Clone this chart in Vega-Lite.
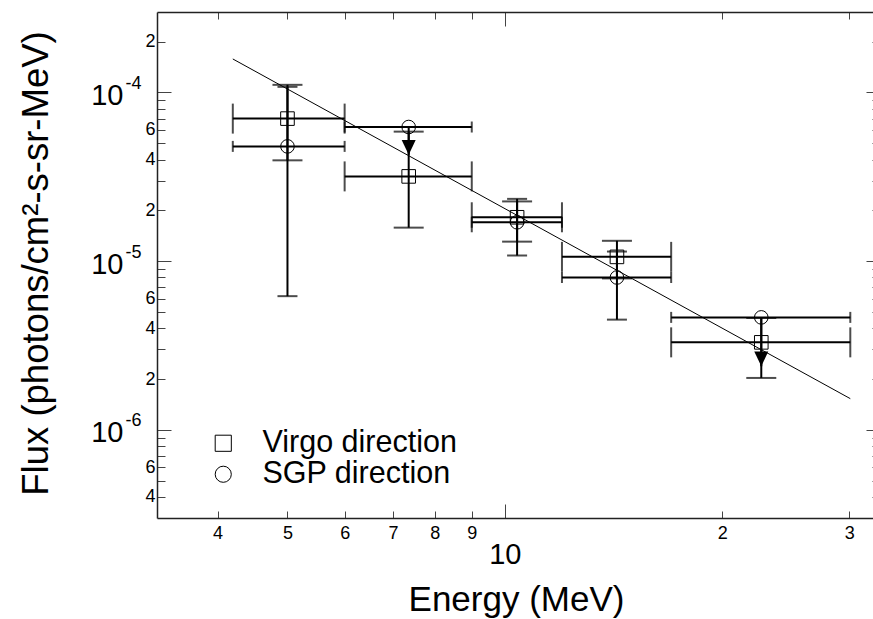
{
  "$schema": "https://vega.github.io/schema/vega-lite/v6.json",
  "width": 716,
  "height": 506,
  "autosize": {"type": "none"},
  "padding": {"left": 157, "top": 12, "right": 0, "bottom": 101},
  "background": "white",
  "config": {
    "view": {"stroke": null},
    "font": "Liberation Sans",
    "axis": {
      "grid": false,
      "labelFont": "Liberation Sans",
      "titleFont": "Liberation Sans",
      "labelColor": "black",
      "titleColor": "black",
      "titleFontWeight": "normal",
      "domainColor": "#222",
      "domainWidth": 1.5,
      "tickColor": "#444",
      "tickWidth": 1,
      "labelFlush": false,
      "labelOverlap": false,
      "labelBound": false
    },
    "legend": {
      "orient": "none",
      "legendX": 51,
      "legendY": 416,
      "title": null,
      "padding": 0,
      "labelFont": "Liberation Sans",
      "labelFontSize": 30.5,
      "labelColor": "black",
      "labelLimit": 0,
      "labelOffset": 24,
      "rowPadding": 0,
      "symbolSize": 260,
      "symbolStrokeWidth": 1,
      "symbolStrokeColor": "black",
      "symbolFillColor": "transparent"
    }
  },
  "datasets": {
    "obs": [
      {"series": "Virgo direction", "E": 5.0, "Elo": 4.2, "Ehi": 6.0, "F": 7.0e-5, "Flo": 3.96e-5, "Fhi": 1.11e-4, "Flim": null},
      {"series": "Virgo direction", "E": 7.36, "Elo": 6.0, "Ehi": 9.0, "F": 3.18e-5, "Flo": 1.58e-5, "Fhi": 5.86e-5, "Flim": null},
      {"series": "Virgo direction", "E": 10.4, "Elo": 9.0, "Ehi": 12.0, "F": 1.82e-5, "Flo": 1.305e-5, "Fhi": 2.26e-5, "Flim": null},
      {"series": "Virgo direction", "E": 14.3, "Elo": 12.0, "Ehi": 17.0, "F": 1.06e-5, "Flo": 7.9e-6, "Fhi": 1.32e-5, "Flim": null},
      {"series": "Virgo direction", "E": 22.66, "Elo": 17.0, "Ehi": 30.1, "F": 3.3e-6, "Flo": 2.03e-6, "Fhi": 4.6e-6, "Flim": null},
      {"series": "SGP direction", "E": 5.0, "Elo": 4.2, "Ehi": 6.0, "F": 4.79e-5, "Flo": 6.2e-6, "Fhi": 1.08e-4, "Flim": null},
      {"series": "SGP direction", "E": 7.36, "Elo": 6.0, "Ehi": 9.0, "F": 6.24e-5, "Flo": null, "Fhi": null, "Flim": 4.27e-5},
      {"series": "SGP direction", "E": 10.4, "Elo": 9.0, "Ehi": 12.0, "F": 1.70e-5, "Flo": 1.08e-5, "Fhi": 2.34e-5, "Flim": null},
      {"series": "SGP direction", "E": 14.3, "Elo": 12.0, "Ehi": 17.0, "F": 8.0e-6, "Flo": 4.5e-6, "Fhi": 1.14e-5, "Flim": null},
      {"series": "SGP direction", "E": 22.66, "Elo": 17.0, "Ehi": 30.1, "F": 4.64e-6, "Flo": null, "Fhi": null, "Flim": 2.38e-6}
    ],
    "fit": [
      {"E": 4.2, "F": 1.58e-4},
      {"E": 30.1, "F": 1.53e-6}
    ]
  },
  "resolve": {"axis": {"x": "independent", "y": "independent"}},
  "layer": [
    {
      "data": {"name": "fit"},
      "mark": {"type": "line", "color": "black", "strokeWidth": 1},
      "encoding": {
        "x": {"field": "E", "type": "quantitative", "scale": {"type": "log", "domain": [3.298, 32.36], "nice": false},
          "axis": {"orient": "bottom", "values": [4, 5, 6, 7, 8, 9, 10, 20, 30], "labels": false, "title": null, "domain": true,
            "tickSize": {"condition": {"test": "datum.value == 10", "value": -14}, "value": -7}}},
        "y": {"field": "F", "type": "quantitative", "scale": {"type": "log", "domain": [3e-7, 3e-4], "nice": false},
          "axis": {"orient": "left", "values": [4e-7, 5e-7, 6e-7, 7e-7, 8e-7, 9e-7, 1e-6, 2e-6, 3e-6, 4e-6, 5e-6, 6e-6, 7e-6, 8e-6, 9e-6, 1e-5, 2e-5, 3e-5, 4e-5, 5e-5, 6e-5, 7e-5, 8e-5, 9e-5, 1e-4, 2e-4],
            "labels": false, "title": null, "domain": true,
            "tickSize": {"condition": {"test": "datum.value == 0.0001 || datum.value == 0.00001 || datum.value == 0.000001", "value": -14}, "value": -8}}}
      }
    },
    {
      "data": {"name": "obs"},
      "mark": {"type": "rule", "color": "black", "strokeWidth": 2},
      "encoding": {
        "x": {"field": "Elo", "type": "quantitative", "scale": {"type": "log", "domain": [3.298, 32.36], "nice": false},
          "axis": {"orient": "top", "values": [4, 5, 6, 7, 8, 9, 10, 20, 30], "labels": false, "title": null, "domain": true,
            "tickSize": {"condition": {"test": "datum.value == 10", "value": -14}, "value": -7}}},
        "x2": {"field": "Ehi"},
        "y": {"field": "F", "type": "quantitative", "scale": {"type": "log", "domain": [3e-7, 3e-4], "nice": false},
          "axis": {"orient": "right", "offset": 7, "values": [4e-7, 5e-7, 6e-7, 7e-7, 8e-7, 9e-7, 1e-6, 2e-6, 3e-6, 4e-6, 5e-6, 6e-6, 7e-6, 8e-6, 9e-6, 1e-5, 2e-5, 3e-5, 4e-5, 5e-5, 6e-5, 7e-5, 8e-5, 9e-5, 1e-4, 2e-4],
            "labels": false, "title": null, "domain": true,
            "tickSize": {"condition": {"test": "datum.value == 0.0001 || datum.value == 0.00001 || datum.value == 0.000001", "value": -14}, "value": -8}}}
      }
    },
    {
      "data": {"name": "obs"},
      "transform": [{"filter": "isValid(datum.Flo)"}],
      "mark": {"type": "rule", "color": "black", "strokeWidth": 2},
      "encoding": {
        "x": {"field": "E", "type": "quantitative", "scale": {"type": "log", "domain": [3.298, 32.36], "nice": false},
          "axis": {"orient": "bottom", "values": [4, 5, 6, 7, 8, 9, 10, 20, 30], "ticks": false, "tickSize": 0, "domain": false,
            "labelExpr": "datum.value == 10 ? '10' : (datum.value >= 20 ? toString(round(datum.value / 10)) : toString(datum.value))",
            "labelFontSize": {"condition": {"test": "datum.value == 10", "value": 29}, "value": 18},
            "labelPadding": {"condition": {"test": "datum.value == 10", "value": 22}, "value": 6},
            "title": "Energy (MeV)", "titleFontSize": 35, "titleX": 359, "titleY": 92, "titleBaseline": "alphabetic", "titleAlign": "center"}},
        "y": {"field": "Flo", "type": "quantitative", "scale": {"type": "log", "domain": [3e-7, 3e-4], "nice": false},
          "axis": {"orient": "left", "values": [2e-4, 6e-5, 4e-5, 2e-5, 6e-6, 4e-6, 2e-6, 6e-7, 4e-7], "ticks": false, "tickSize": 0, "domain": false,
            "labelExpr": "toString(round(datum.value / pow(10, floor(log(datum.value) / LN10 + 1e-9))))",
            "labelFontSize": 18, "labelPadding": 2, "labelAlign": "right", "labelBaseline": "middle",
            "title": "Flux (photons/cm²-s-sr-MeV)", "titleFontSize": 36.5, "titleX": -110, "titleY": 251, "titleBaseline": "alphabetic", "titleAlign": "center", "titleAngle": -90}},
        "y2": {"field": "Fhi"}
      }
    },
    {
      "data": {"name": "obs"},
      "transform": [{"filter": "isValid(datum.Flo)"}],
      "mark": {"type": "tick", "orient": "horizontal", "color": "black", "thickness": 2},
      "encoding": {
        "x": {"field": "E", "type": "quantitative", "scale": {"type": "log", "domain": [3.298, 32.36], "nice": false}, "axis": null},
        "y": {"field": "Flo", "type": "quantitative", "scale": {"type": "log", "domain": [3e-7, 3e-4], "nice": false},
          "axis": {"orient": "left", "values": [1e-4, 1e-5, 1e-6], "ticks": false, "tickSize": 0, "domain": false,
            "labelExpr": "'10'", "labelFontSize": 29, "labelPadding": 34, "labelOffset": 3, "labelAlign": "right", "labelBaseline": "middle", "title": null}},
        "size": {"condition": {"test": "datum.series == 'SGP direction'", "value": 20}, "value": 30}
      }
    },
    {
      "data": {"name": "obs"},
      "transform": [{"filter": "isValid(datum.Fhi)"}],
      "mark": {"type": "tick", "orient": "horizontal", "color": "black", "thickness": 2},
      "encoding": {
        "x": {"field": "E", "type": "quantitative", "scale": {"type": "log", "domain": [3.298, 32.36], "nice": false}, "axis": null},
        "y": {"field": "Fhi", "type": "quantitative", "scale": {"type": "log", "domain": [3e-7, 3e-4], "nice": false},
          "axis": {"orient": "left", "values": [1e-4, 1e-5, 1e-6], "ticks": false, "tickSize": 0, "domain": false,
            "labelExpr": "'-' + toString(-round(log(datum.value) / LN10))", "labelFontSize": 18, "labelPadding": 16, "labelOffset": -9, "labelAlign": "right", "labelBaseline": "middle", "title": null}},
        "size": {"condition": {"test": "datum.series == 'SGP direction'", "value": 20}, "value": 30}
      }
    },
    {
      "data": {"name": "obs"},
      "mark": {"type": "tick", "orient": "vertical", "color": "black", "thickness": 2},
      "encoding": {
        "x": {"field": "Elo", "type": "quantitative", "scale": {"type": "log", "domain": [3.298, 32.36], "nice": false}, "axis": null},
        "y": {"field": "F", "type": "quantitative", "scale": {"type": "log", "domain": [3e-7, 3e-4], "nice": false}, "axis": null},
        "size": {"condition": {"test": "datum.series == 'SGP direction'", "value": 11}, "value": 30}
      }
    },
    {
      "data": {"name": "obs"},
      "mark": {"type": "tick", "orient": "vertical", "color": "black", "thickness": 2},
      "encoding": {
        "x": {"field": "Ehi", "type": "quantitative", "scale": {"type": "log", "domain": [3.298, 32.36], "nice": false}, "axis": null},
        "y": {"field": "F", "type": "quantitative", "scale": {"type": "log", "domain": [3e-7, 3e-4], "nice": false}, "axis": null},
        "size": {"condition": {"test": "datum.series == 'SGP direction'", "value": 11}, "value": 30}
      }
    },
    {
      "data": {"name": "obs"},
      "transform": [{"filter": "isValid(datum.Flim)"}],
      "mark": {"type": "rule", "color": "black", "strokeWidth": 2},
      "encoding": {
        "x": {"field": "E", "type": "quantitative", "scale": {"type": "log", "domain": [3.298, 32.36], "nice": false}, "axis": null},
        "y": {"field": "F", "type": "quantitative", "scale": {"type": "log", "domain": [3e-7, 3e-4], "nice": false}, "axis": null},
        "y2": {"field": "Flim"}
      }
    },
    {
      "data": {"name": "obs"},
      "transform": [{"filter": "isValid(datum.Flim)"}],
      "mark": {"type": "point", "shape": "M-1,-2.1L1,-2.1L0,0Z", "filled": true, "color": "black", "size": 196, "opacity": 1},
      "encoding": {
        "x": {"field": "E", "type": "quantitative", "scale": {"type": "log", "domain": [3.298, 32.36], "nice": false}, "axis": null},
        "y": {"field": "Flim", "type": "quantitative", "scale": {"type": "log", "domain": [3e-7, 3e-4], "nice": false}, "axis": null}
      }
    },
    {
      "data": {"name": "obs"},
      "mark": {"type": "point", "filled": false, "color": "black", "strokeWidth": 1, "size": 185, "opacity": 1},
      "encoding": {
        "x": {"field": "E", "type": "quantitative", "scale": {"type": "log", "domain": [3.298, 32.36], "nice": false}, "axis": null},
        "y": {"field": "F", "type": "quantitative", "scale": {"type": "log", "domain": [3e-7, 3e-4], "nice": false}, "axis": null},
        "shape": {"field": "series", "type": "nominal", "scale": {"domain": ["Virgo direction", "SGP direction"], "range": ["square", "circle"]}}
      }
    }
  ]
}
